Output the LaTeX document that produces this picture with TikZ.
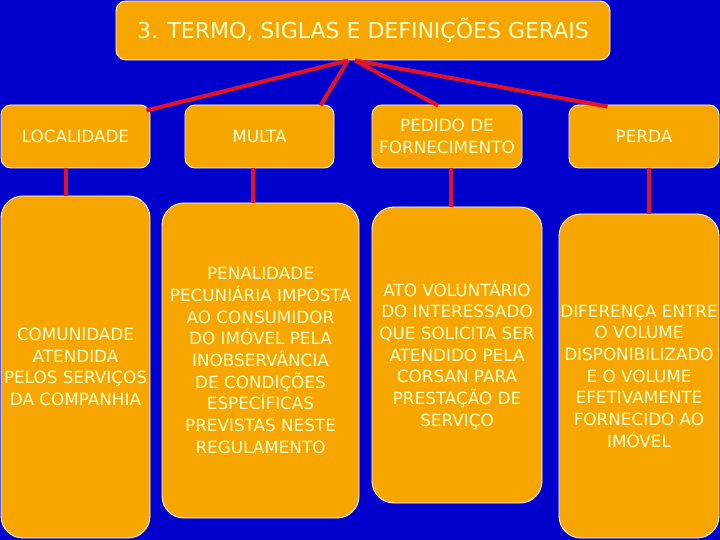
\documentclass[tikz,border=0pt]{standalone}
\usepackage{fontspec}
\setmainfont{DejaVu Sans}
\definecolor{bgblue}{RGB}{0,0,204}
\definecolor{boxorange}{RGB}{247,166,0}
\definecolor{txtcream}{RGB}{255,255,205}
\definecolor{linkred}{RGB}{226,18,40}
\tikzset{
  box/.style={draw=white, line width=0.9pt, fill=boxorange, text=txtcream,
    align=center, inner sep=0pt, font=\fontsize{16.8}{21.7}\selectfont},
  toprow/.style={box, rounded corners=10pt},
  botrow/.style={box, rounded corners=22pt},
  link/.style={draw=linkred, line width=4pt},
}
\begin{document}
\begin{tikzpicture}[x=1pt,y=-1pt]
\useasboundingbox (0,0) rectangle (720,540);
\fill[bgblue] (0,0) rectangle (720,540);

\node[toprow, minimum width=494pt, minimum height=59pt, font=\fontsize{22}{26}\selectfont]
  (title) at (363,30.5) {3. TERMO, SIGLAS E DEFINIÇÕES GERAIS};

\node[toprow, minimum width=149pt, minimum height=63pt] (loc) at (75.5,136.5) {LOCALIDADE};
\node[toprow, minimum width=149pt, minimum height=63pt] (mul) at (259.5,136.5) {MULTA};
\node[toprow, minimum width=150pt, minimum height=63pt] (ped) at (447,136.5) {PEDIDO DE\\FORNECIMENTO};
\node[toprow, minimum width=150pt, minimum height=63pt] (per) at (644,136.5) {PERDA};

\node[botrow, minimum width=149pt, minimum height=342pt] (c1) at (75.5,367)
  {COMUNIDADE\\ATENDIDA\\PELOS SERVIÇOS\\DA COMPANHIA};
\node[botrow, minimum width=197pt, minimum height=315pt] (c2) at (260.5,360.5)
  {PENALIDADE\\PECUNIÁRIA IMPOSTA\\AO CONSUMIDOR\\DO IMÓVEL PELA\\INOBSERVÂNCIA\\DE CONDIÇÕES\\ESPECÍFICAS\\PREVISTAS NESTE\\REGULAMENTO};
\node[botrow, minimum width=170pt, minimum height=296pt] (c3) at (457,355)
  {ATO VOLUNTÁRIO\\DO INTERESSADO\\QUE SOLICITA SER\\ATENDIDO PELA\\CORSAN PARA\\PRESTAÇÃO DE\\SERVIÇO};
\node[botrow, minimum width=160pt, minimum height=324pt] (c4) at (639,376)
  {DIFERENÇA ENTRE\\O VOLUME\\DISPONIBILIZADO\\E O VOLUME\\EFETIVAMENTE\\FORNECIDO AO\\IMÓVEL};

% top connectors
\coordinate (tl) at ([xshift=-15pt]title.south);
\coordinate (tr) at ([xshift=-8pt]title.south);
\draw[link] (tl) -- ([xshift=-4pt,yshift=-6pt]loc.north east);
\draw[link] (tl) -- ([xshift=-14pt,yshift=-1pt]mul.north east);
\draw[link] (tr) -- ([xshift=-9pt,yshift=-1pt]ped.north);
\draw[link] (tr) -- ([xshift=39pt,yshift=-2pt]per.north west);

% vertical connectors
\draw[link] ([xshift=-10pt]loc.south) -- ([xshift=-10pt]loc.south |- c1.north);
\draw[link] ([xshift=-7pt]mul.south) -- ([xshift=-7pt]mul.south |- c2.north);
\draw[link] ([xshift=4pt]ped.south) -- ([xshift=4pt]ped.south |- c3.north);
\draw[link] ([xshift=5pt]per.south) -- ([xshift=5pt]per.south |- c4.north);
\end{tikzpicture}
\end{document}
